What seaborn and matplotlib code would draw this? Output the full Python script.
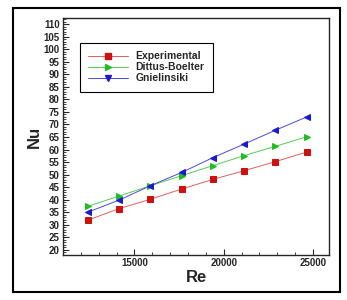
import matplotlib
matplotlib.use("Agg")
import matplotlib.pyplot as plt
from matplotlib.lines import Line2D
from matplotlib.patches import Rectangle
from matplotlib.ticker import MultipleLocator
import seaborn as sns
import pandas as pd

# ---- données ----
RE = [12400, 14150, 15900, 17650, 19400, 21150, 22900, 24650]
NU_EXP = [31.9, 36.5, 40.2, 44.3, 48.1, 51.6, 55.2, 59.0]
NU_DB = [37.4, 41.5, 45.6, 49.6, 53.6, 57.6, 61.3, 65.1]
NU_GN = [35.1, 39.9, 45.6, 50.9, 56.8, 62.2, 67.7, 73.0]
SERIES = ["Experimental", "Dittus-Boelter", "Gnielinsiki"]

COLORS = {"Experimental": "#cc1111", "Dittus-Boelter": "#22bb22", "Gnielinsiki": "#1a1acc"}
LINE_COLORS = {"Experimental": "#e06060", "Dittus-Boelter": "#55cc55", "Gnielinsiki": "#4a4ae0"}
MARKERS = {"Experimental": "s", "Dittus-Boelter": ">", "Gnielinsiki": "<"}
LEG_MARKERS = {"Experimental": "s", "Dittus-Boelter": ">", "Gnielinsiki": "v"}

df = pd.DataFrame({
    "Re": RE * 3,
    "Nu": NU_EXP + NU_DB + NU_GN,
    "serie": [s for s in SERIES for _ in RE],
})

sns.set_style("ticks")
plt.rcParams["font.family"] = ["Liberation Sans", "DejaVu Sans"]
plt.rcParams["font.weight"] = "bold"

fig = plt.figure(figsize=(3.47, 3.0), dpi=100)
ax = fig.add_axes([0.1816, 0.15, 0.7666, 0.79])

# cadre extérieur
fig.patches.append(Rectangle((0.0375, 0.027), 0.9425, 0.946, transform=fig.transFigure,
                             fill=False, edgecolor="black", linewidth=1.5))

for s in SERIES:
    sub = df[df["serie"] == s]
    sns.lineplot(data=sub, x="Re", y="Nu", ax=ax, color=LINE_COLORS[s], linewidth=0.7,
                 marker=MARKERS[s], markersize=4.5, markerfacecolor=COLORS[s],
                 markeredgecolor=COLORS[s], legend=False)

ax.set_xlim(11000, 25900)
ax.set_ylim(18, 112.4)
ax.xaxis.set_major_locator(MultipleLocator(5000))
ax.xaxis.set_minor_locator(MultipleLocator(1000))
ax.yaxis.set_major_locator(MultipleLocator(5))
ax.yaxis.set_minor_locator(MultipleLocator(1))
ax.set_xticks([15000, 20000, 25000])
ax.tick_params(which="both", direction="in", top=False, right=False, labelsize=7)
ax.tick_params(which="major", length=4, width=0.8, pad=2.5)
ax.tick_params(which="minor", length=2, width=0.6)
for lab in ax.get_xticklabels() + ax.get_yticklabels():
    lab.set_fontweight("bold")
for sp in ax.spines.values():
    sp.set_linewidth(1.0)
    sp.set_visible(True)

ax.set_xlabel("Re", fontsize=12, fontweight="bold", labelpad=1)
ax.set_ylabel("Nu", fontsize=12, fontweight="bold", labelpad=1)

handles = [Line2D([0], [0], color=LINE_COLORS[s], linewidth=0.7, marker=LEG_MARKERS[s],
                  markersize=4.5, markerfacecolor=COLORS[s], markeredgecolor=COLORS[s])
           for s in SERIES]
leg = ax.legend(handles, SERIES, loc="upper left", bbox_to_anchor=(0.064, 0.895),
                borderaxespad=0, fancybox=False, framealpha=1, edgecolor="black",
                handlelength=3.8, borderpad=0.8, labelspacing=0.1,
                handletextpad=0.7, prop={"weight": "bold", "size": 7.5})
leg.get_frame().set_linewidth(0.8)

fig.savefig("out.png", dpi=100)
